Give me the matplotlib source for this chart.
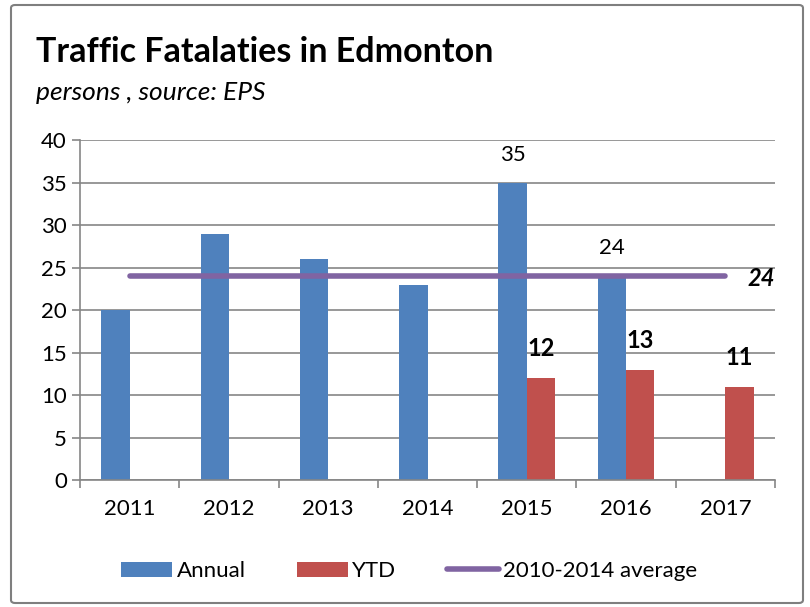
import matplotlib
matplotlib.use('Agg')
import matplotlib.pyplot as plt
from matplotlib.patches import FancyBboxPatch
import numpy as np

plt.rcParams['font.family'] = ['Lato', 'DejaVu Sans']

years = ['2011', '2012', '2013', '2014', '2015', '2016', '2017']
annual = [20, 29, 26, 23, 35, 24, None]
ytd = [None, None, None, None, 12, 13, 11]
average = 24
annual_labels = {4: '35', 5: '24'}

blue = '#4F81BD'
red = '#C0504D'
purple = '#8064A2'

fig = plt.figure(figsize=(8.1, 6.07), dpi=100)
ax = fig.add_axes([80 / 810, 1 - 480 / 607, 695 / 810, 340 / 607])

x = np.arange(len(years))
w = 0.285
a_vals = [v if v is not None else 0 for v in annual]
y_vals = [v if v is not None else 0 for v in ytd]
b1 = ax.bar(x - w / 2, a_vals, w, color=blue, label='Annual', zorder=2)
b2 = ax.bar(x + w / 2, y_vals, w, color=red, label='YTD', zorder=2)
ln, = ax.plot([x[0], x[-1]], [average, average], color=purple, lw=4,
              solid_capstyle='round', label='2010-2014 average', zorder=3)

for i, txt in annual_labels.items():
    ax.annotate(txt, (x[i] - w / 2, annual[i]), xytext=(0, 20), textcoords='offset points',
                ha='center', va='center', fontsize=16)
for i, v in enumerate(ytd):
    if v is not None:
        ax.annotate(str(v), (x[i] + w / 2, v), xytext=(0, 21), textcoords='offset points',
                    ha='center', va='center', fontsize=17, fontweight='bold')
ax.annotate(str(average), (x[-1], average), xytext=(16, -2), textcoords='offset points',
            ha='left', va='center', fontsize=17, fontweight='bold', style='italic')

ax.set_xlim(-0.5, len(years) - 0.5)
ax.set_ylim(0, 40)
ax.set_yticks(range(0, 41, 5))
ax.set_xticks(x)
ax.set_xticklabels(years)
ax.set_xticks(np.arange(-0.5, len(years), 1), minor=True)
ax.tick_params(axis='x', which='major', length=0, pad=14, labelsize=16)
ax.tick_params(axis='x', which='minor', length=6, color='#868686', width=1.2)
ax.tick_params(axis='y', length=6, color='#868686', width=1.2, labelsize=16, direction='out')
ax.yaxis.grid(True, color='#868686', lw=1.2, zorder=0)
ax.set_axisbelow(True)
for s in ['top', 'right']:
    ax.spines[s].set_visible(False)
for s in ['left', 'bottom']:
    ax.spines[s].set_color('#868686')
    ax.spines[s].set_linewidth(1.2)

fig.legend([b1, b2, ln], ['Annual', 'YTD', '2010-2014 average'],
           loc='center', bbox_to_anchor=(409 / 810, 1 - 571 / 607), ncol=3,
           frameon=False, fontsize=16, handlelength=2.3, handleheight=0.65,
           columnspacing=2.3, handletextpad=0.2)

fig.text(36 / 810, 1 - 52 / 607, 'Traffic Fatalaties in Edmonton', fontsize=24.5,
         fontweight='bold', va='center', ha='left')
fig.text(36 / 810, 1 - 92 / 607, 'persons , source: EPS', fontsize=19,
         style='italic', va='center', ha='left')

border = FancyBboxPatch((11 / 810, 4 / 607), 792 / 810, 598 / 607,
                        boxstyle='round,pad=0,rounding_size=0.005',
                        transform=fig.transFigure, fill=False,
                        edgecolor='#7f7f7f', lw=1.5)
fig.patches.append(border)

fig.savefig('out.png', dpi=100)
